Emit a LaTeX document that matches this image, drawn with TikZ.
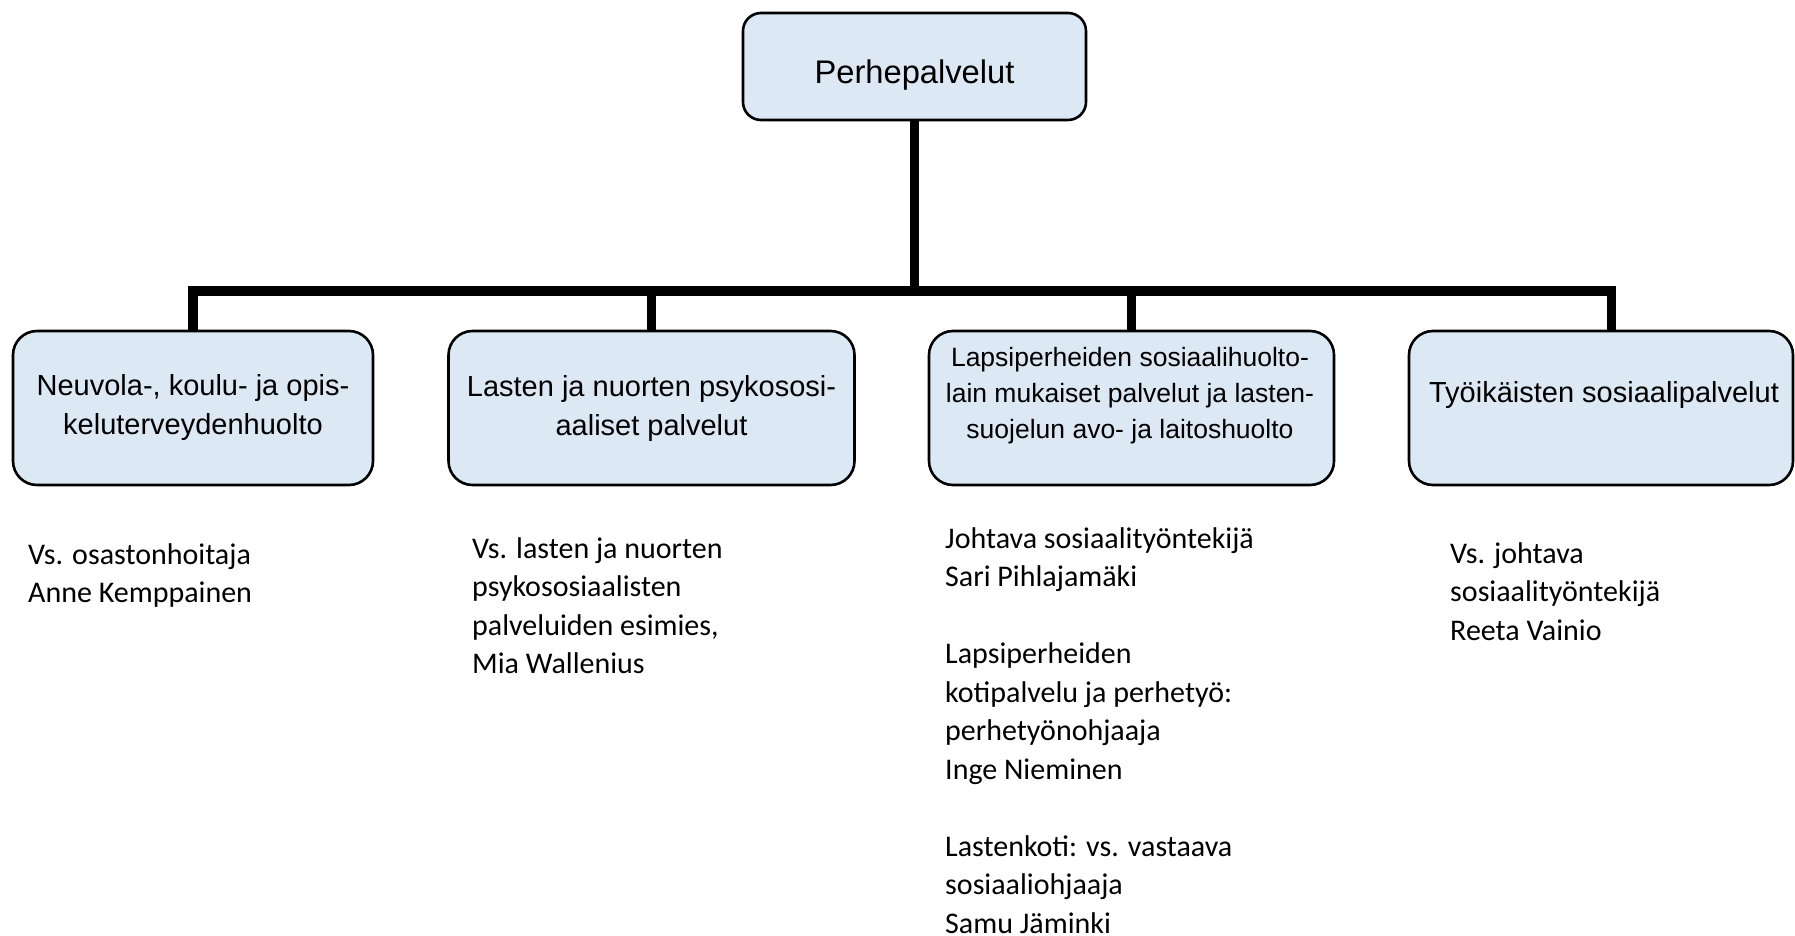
\documentclass[tikz,border=0pt]{standalone}
\usepackage{fontspec}
\setmainfont{Carlito}
\newfontfamily\arialfont{Liberation Sans}
\definecolor{unitfill}{RGB}{221,232,245}
\begin{document}
\begin{tikzpicture}[x=1pt, y=-1pt,
        unit/.style={draw=black, line width=2.6pt, fill=unitfill, rounded corners=24pt, minimum height=154pt, inner sep=0pt},
        unitname/.style={font=\arialfont\fontsize{29}{39}\selectfont, align=center, inner sep=0pt, anchor=north, execute at begin node=\strut},
        staff/.style={font=\fontsize{30}{38.5}\selectfont, align=left, inner sep=0pt, anchor=north west, execute at begin node=\strut},
        link/.style={line width=9.5pt, line join=miter}]
        \useasboundingbox (0,0) rectangle (1795,936);
        \node[unit, minimum width=343pt, minimum height=107pt, rounded corners=18pt] (perhe) at (914.5, 66.5) {};
        \node[unit, minimum width=360pt] (neuvola) at (193, 408) {};
        \node[unit, minimum width=406pt] (lasten) at (651.5, 408) {};
        \node[unit, minimum width=405pt] (lapsi) at (1131.5, 408) {};
        \node[unit, minimum width=384pt] (tyoik) at (1601, 408) {};
        \coordinate (bar) at (914.5, 291);
        \draw[link] (perhe.south) -- (bar);
        \draw[link] (bar) -| (neuvola.north);
        \draw[link] (bar) -| (lasten.north);
        \draw[link] (bar) -| (lapsi.north);
        \draw[link] (bar) -| ([xshift=10.5pt]tyoik.north);
        \node[unitname, font=\arialfont\fontsize{32.7}{38}\selectfont] (perhename) at (914.5, 56.4) {Perhepalvelut};
        \node[unitname] (neuvolaname) at (193, 374) {Neuvola-, koulu- ja opis-\\keluterveydenhuolto};
        \node[unitname] (lastenname) at (651.5, 375) {Lasten ja nuorten psykososi-\\aaliset palvelut};
        \node[unitname, font=\arialfont\fontsize{26.5}{36}\selectfont] (lapsiname) at (1130, 347) {Lapsiperheiden sosiaalihuolto-\\lain mukaiset palvelut ja lasten-\\suojelun avo- ja laitoshuolto};
        \node[unitname] (tyoikname) at (1604, 375) {Työikäisten sosiaalipalvelut};
        \node[staff] (osasto) at (28, 543) {Vs. osastonhoitaja\\Anne Kemppainen};
        \node[staff] (esimies) at (472, 537) {Vs. lasten ja nuorten\\psykososiaalisten\\palveluiden esimies,\\Mia Wallenius};
        \node[staff] (johtava) at (945, 527) {Johtava sosiaalityöntekijä\\Sari Pihlajamäki\\[38.5pt]Lapsiperheiden\\kotipalvelu ja perhetyö:\\perhetyönohjaaja\\Inge Nieminen\\[38.5pt]Lastenkoti: vs. vastaava\\sosiaaliohjaaja\\Samu Jäminki};
        \node[staff] (vsjohtava) at (1450, 542) {Vs. johtava\\sosiaalityöntekijä\\Reeta Vainio};
    \end{tikzpicture}
\end{document}
